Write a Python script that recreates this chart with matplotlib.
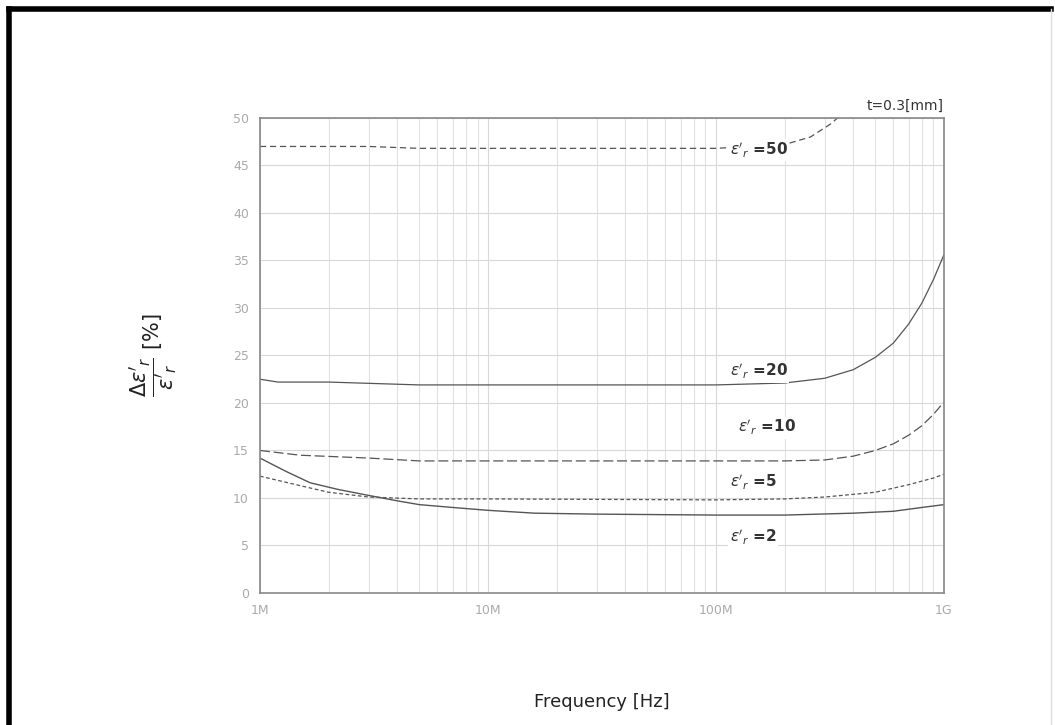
import numpy as np
import matplotlib
matplotlib.use("Agg")
import matplotlib.pyplot as plt
from matplotlib.lines import Line2D

# data (frequency in Hz, value in %)
freq_50 = [1e6, 3e6, 5e6, 1e7, 5e7, 1e8, 2e8, 2.6e8, 3.2e8, 3.8e8]
val_50 = [47.0, 47.0, 46.8, 46.8, 46.8, 46.8, 47.2, 48.0, 49.4, 51.0]

freq_20 = [1e6, 1.2e6, 2e6, 5e6, 1e7, 1e8, 2e8, 3e8, 4e8, 5e8, 6e8, 7e8, 8e8, 9e8, 1e9]
val_20 = [22.5, 22.2, 22.2, 21.9, 21.9, 21.9, 22.1, 22.6, 23.5, 24.8, 26.3, 28.3, 30.5, 33.0, 35.6]

freq_10 = [1e6, 1.5e6, 3e6, 5e6, 1e7, 1e8, 2e8, 3e8, 4e8, 5e8, 6e8, 7e8, 8e8, 9e8, 1e9]
val_10 = [15.0, 14.5, 14.2, 13.9, 13.9, 13.9, 13.9, 14.0, 14.4, 15.0, 15.7, 16.6, 17.6, 18.8, 20.1]

freq_5 = [1e6, 1.5e6, 2e6, 3e6, 5e6, 1e7, 1e8, 2e8, 3e8, 5e8, 7e8, 9e8, 1e9]
val_5 = [12.3, 11.3, 10.6, 10.1, 9.9, 9.9, 9.8, 9.9, 10.1, 10.6, 11.4, 12.1, 12.5]

freq_2 = [1e6, 1.3e6, 1.66e6, 2.2e6, 2.95e6, 4e6, 5e6, 7e6, 1e7, 1.6e7, 3e7, 1e8, 2e8, 4e8, 6e8, 8e8, 1e9]
val_2 = [14.2, 12.8, 11.6, 10.9, 10.3, 9.7, 9.3, 9.0, 8.7, 8.4, 8.3, 8.2, 8.2, 8.4, 8.6, 9.0, 9.3]

x_ticks = [1e6, 1e7, 1e8, 1e9]
x_labels = ["1M", "10M", "100M", "1G"]
y_ticks = np.arange(0, 51, 5)

curve_labels = ["=50", "=20", "=10", "=5", "=2"]
label_pos = [(1.15e8, 46.6), (1.15e8, 23.3), (1.25e8, 17.4), (1.15e8, 11.6), (1.15e8, 5.9)]

fig = plt.figure(figsize=(10.55, 7.25), dpi=100)
ax = fig.add_axes([0.2464, 0.1821, 0.6483, 0.6552])

line_col = "#555555"
ax.plot(freq_50, val_50, color=line_col, lw=0.9, ls=(0, (5, 3)))
ax.plot(freq_20, val_20, color=line_col, lw=0.9, ls="-")
ax.plot(freq_10, val_10, color=line_col, lw=0.9, ls=(0, (8, 3)))
ax.plot(freq_5, val_5, color=line_col, lw=0.9, ls=(0, (3, 2)))
ax.plot(freq_2, val_2, color=line_col, lw=1.0, ls="-")

ax.set_xscale("log")
ax.set_xlim(1e6, 1e9)
ax.set_ylim(0, 50)
ax.set_xticks(x_ticks)
ax.set_xticklabels(x_labels)
ax.set_yticks(y_ticks)
ax.tick_params(axis="both", which="both", length=0, colors="#aaaaaa", labelsize=9, pad=8)

ax.grid(True, which="major", color="#d8d8d8", lw=0.8)
ax.grid(True, which="minor", axis="x", color="#e2e2e2", lw=0.8)
for sp in ax.spines.values():
    sp.set_color("#888888")
    sp.set_linewidth(1.2)

for txt, (xx, yy) in zip(curve_labels, label_pos):
    ax.text(xx, yy, r"$\varepsilon'_r$ " + txt, fontsize=11, color="#333333",
            ha="left", va="center", fontweight="bold",
            bbox=dict(facecolor="white", edgecolor="none", pad=1))

ax.text(1.0, 1.01, "t=0.3[mm]", transform=ax.transAxes, ha="right", va="bottom",
        fontsize=10, color="#333333")

ax.set_xlabel("Frequency [Hz]", fontsize=13, color="#222222", labelpad=55)
ax.set_ylabel(r"$\dfrac{\Delta\varepsilon'_r}{\varepsilon'_r}$ [%]", fontsize=15,
              color="#222222", labelpad=38)

# thick frame round the page (bottom is cut off in the original)
fig.add_artist(Line2D([0.0085, 0.0085], [0.0, 0.987], color="black", lw=4, transform=fig.transFigure))
fig.add_artist(Line2D([0.0085, 0.996], [0.987, 0.987], color="black", lw=4, transform=fig.transFigure))
fig.add_artist(Line2D([0.996, 0.996], [0.0, 0.987], color="#dddddd", lw=1, transform=fig.transFigure))

plt.savefig("out.png", dpi=100)
